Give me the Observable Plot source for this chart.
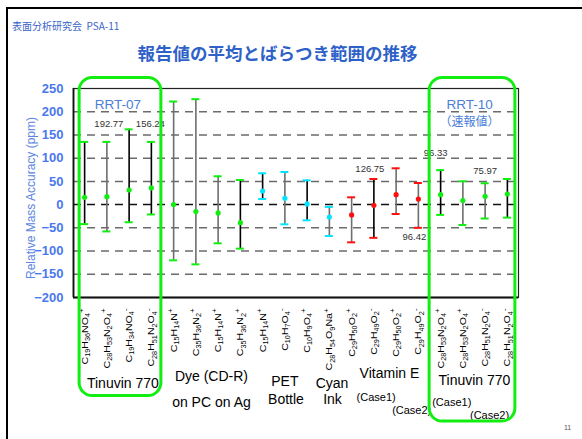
<!DOCTYPE html>
<html>
<head>
<meta charset="utf-8">
<script src="https://cdn.jsdelivr.net/npm/d3@7"></script>
<script src="https://cdn.jsdelivr.net/npm/@observablehq/plot@0.6"></script>
<style>
  body { margin: 0; background: #fff; }
  #slide { position: relative; width: 582px; height: 439px; overflow: hidden; background: #fff; }
  #edge { position: absolute; left: 6px; top: 7px; width: 800px; height: 800px;
          border-top: 2.5px solid #000; border-left: 2.5px solid #000; }
  #org { position: absolute; left: 12px; top: 21px; font: 10px/10px "Noto Sans CJK JP", sans-serif; color: #3a66c8; white-space: pre; }
  #title { position: absolute; left: 0; width: 555px; top: 44px; text-align: center;
           font: bold 17.5px/17.5px "Noto Sans CJK JP", sans-serif; color: #2f62c8; }
  #page { position: absolute; left: 564px; top: 424px; font: 7px/7px "Liberation Sans", sans-serif; color: #555; }
  #chart { position: absolute; left: 0; top: 0; }
</style>
</head>
<body>
<div id="slide">
  <div id="chart"></div>
  <div id="edge"></div>
  <div id="org">表面分析研究会  PSA-11</div>
  <div id="title">報告値の平均とばらつき範囲の推移</div>
  <div id="page">11</div>
</div>
<script>
// Ion formulas along the x axis (digits = subscripts, trailing sign = charge)
const formulas = [
  "C19H36NO4+", "C28H53N2O4+", "C19H34NO4-", "C28H51N2O4-",
  "C15H14N+", "C35H36N2+", "C15H14N+", "C35H36N2+",
  "C15H14N+", "C10H7O4-", "C10H9O4+", "C28H54O9Na+",
  "C29H50O2+", "C29H49O2-", "C29H50O2+", "C29H49O2-",
  "C28H53N2O4+", "C28H53N2O4+", "C28H51N2O4-", "C28H51N2O4-"
];
// Mean relative mass accuracy (ppm)
const means = [15.7, 17, 31.5, 36, 0, -15, -18, -38.8, 29.3, 13.6,
               1.4, -26.7, -22.3, -1.5, 21.5, 12, 21.5, 8.6, 17.9, 22.8];
// Upper and lower ends of the reported spread (ppm)
const highs = [135, 135, 162, 135, 222, 227, 61, 53, 67.4, 70.2,
               52.3, -5, 15.7, 55.2, 78.2, 46.5, 74.2, 50.2, 46, 55.2];
const lows = [-42, -57.77, -38, -21.24, -120, -128.6, -83.3, -94.8, 12, -42.4,
              -33.8, -67.5, -81.2, -71.55, -20.2, -49.92, -22.13, -43.9, -29.97, -28];
// Sample family of each ion (sets the marker colour)
const family = ["T", "T", "T", "T", "D", "D", "D", "D", "P", "P",
                "P", "P", "V", "V", "V", "V", "T", "T", "T", "T"];
// Bar line tone of each ion
const tone = ["k", "g", "k", "k", "g", "g", "g", "k", "k", "g",
              "k", "g", "g", "k", "g", "g", "k", "g", "g", "k"];
// Spreads printed as numbers next to their bars (column index)
const spreadLabelled = [1, 3, 13, 15, 16, 18];
// Grid / tick values
const yTicks = [-200, -150, -100, -50, 0, 50, 100, 150, 200, 250];
const gridLines = [-150, -100, -50, 50, 100, 150, 200];

const familyColor = {T: "#10ee10", D: "#10ee10", P: "#00e5ff", V: "#ff1010"};
const toneColor = {k: "#000", g: "#6e6e6e"};
const blue = "#4a78ee";

const rows = formulas.map((f, i) => ({
  i, f, mean: means[i], hi: highs[i], lo: lows[i],
  color: familyColor[family[i]], line: toneColor[tone[i]]
}));

// placement of the spread numbers: which end, and pixel offset
const spreadPlace = {
  1: {end: "hi", dx: 2, dy: -18}, 3: {end: "hi", dx: -1, dy: -18},
  13: {end: "hi", dx: -4, dy: -10}, 15: {end: "lo", dx: -4, dy: 9},
  16: {end: "hi", dx: -5, dy: -17}, 18: {end: "hi", dx: 0, dy: -12}
};

// captions under the formulas: text, x (column units), baseline below frame, size
const captions = [
  ["Tinuvin 770", 1.72, 90, 14], ["Dye (CD-R)", 5.7, 83, 14], ["on PC on Ag", 5.7, 109, 14],
  ["PET", 9.0, 88, 14], ["Bottle", 9.05, 106, 14], ["Cyan", 11.12, 90, 14], ["Ink", 11.14, 106, 14],
  ["Vitamin E", 13.7, 80, 14], ["(Case1)", 13.1, 103, 11], ["(Case2)", 14.7, 116, 11],
  ["Tinuvin 770", 17.52, 87, 14], ["(Case1)", 16.5, 108, 11], ["(Case2)", 18.2, 121, 11]
];

const capHalf = 0.18;
const marks = [
  Plot.ruleY(gridLines, {stroke: "#6b6b6b", strokeWidth: 1.5, strokeDasharray: "8,6"}),
  Plot.ruleY([0], {stroke: "#111", strokeWidth: 1.5, strokeDasharray: "8,6"}),
  Plot.frame({stroke: "#222", strokeWidth: 1.2}),
  Plot.ruleX([-0.5], {stroke: "#111", strokeWidth: 1.8}),
  Plot.ruleY([-200], {stroke: "#111", strokeWidth: 2}),
  Plot.axisY(yTicks, {tickSize: 0, tickPadding: 10, fontSize: 13, fontWeight: "bold", color: blue, label: null}),
  Plot.text(["Relative Mass Accuracy (ppm)"], {frameAnchor: "left", textAnchor: "middle", lineAnchor: "middle",
    rotate: -90, dx: -42, dy: 5, fill: "#5b84e3", fontSize: 12}),
  Plot.ruleX(rows, {x: "i", y1: "lo", y2: "hi", stroke: "line", strokeWidth: 1.6}),
  Plot.ruleY(rows, {y: "hi", x1: d => d.i - capHalf, x2: d => d.i + capHalf, stroke: "color", strokeWidth: 2}),
  Plot.ruleY(rows, {y: "lo", x1: d => d.i - capHalf, x2: d => d.i + capHalf, stroke: "color", strokeWidth: 2}),
  Plot.dot(rows, {x: "i", y: "mean", r: 2.6, fill: "color"}),
  Plot.text(rows, {x: "i", text: "f", frameAnchor: "bottom", dy: 11, rotate: -90, textAnchor: "end",
    lineAnchor: "middle", fontSize: 9.5, fill: "#000"}),
  Plot.text(["RRT-07"], {x: 1.5, frameAnchor: "top", lineAnchor: "middle", dy: 16, fontSize: 13.5, fill: "#4a7ed8"}),
  Plot.text(["RRT-10"], {x: 17.3, frameAnchor: "top", lineAnchor: "middle", dy: 16, fontSize: 13.5, fill: "#4a7ed8"}),
  Plot.text(["（速報値）"], {x: 17.3, frameAnchor: "top", lineAnchor: "middle", dy: 34, fontSize: 12,
    fontFamily: "Noto Sans CJK JP", fill: "#4a7ed8"})
];

for (const i of spreadLabelled) {
  const p = spreadPlace[i];
  const r = rows[i];
  marks.push(Plot.text([r], {x: "i", y: p.end, dx: p.dx, dy: p.dy,
    text: d => (d.hi - d.lo).toFixed(2), fontSize: 9.5, fill: "#333"}));
}
for (const [text, x, base, size] of captions) {
  marks.push(Plot.text([text], {x, frameAnchor: "bottom", dy: base, lineAnchor: "bottom",
    fontSize: size, fill: "#000"}));
}

const plot = Plot.plot({
  width: 582, height: 439,
  marginLeft: 73, marginRight: 64, marginTop: 88, marginBottom: 142,
  x: {domain: [-0.5, 19.5], axis: null},
  y: {domain: [-200, 250], axis: null},
  style: {fontFamily: "'Liberation Sans', Arial, sans-serif", background: "transparent", overflow: "visible"},
  marks
});
document.getElementById("chart").append(plot);

// rebuild formula labels with sub- and superscripts, drawn slightly elongated
const formulaSet = new Set(formulas);
const formulaTexts = d3.select(plot).selectAll("text").filter(function () {
  return formulaSet.has(this.textContent);
});
formulaTexts.each(function () {
  const s = this.textContent;
  const t = d3.select(this);
  t.text(null);
  let shift = 0;
  const put = (str, size, target) => {
    const span = t.append("tspan").text(str);
    if (size) span.attr("font-size", size);
    if (target !== shift) { span.attr("dy", target - shift); shift = target; }
  };
  const m = s.match(/^(.*?)([+-])?$/);
  for (const [, el, n] of m[1].matchAll(/([A-Z][a-z]?)(\d*)/g)) {
    put(el, null, 0);
    if (n) put(n, 6.5, 2.2);
  }
  if (m[2]) put(m[2], 7, -3.8);
});
// stretch along the reading direction: first label spans 56px
const firstLen = formulaTexts.node().getComputedTextLength();
const stretch = firstLen > 0 ? 56 / firstLen : 1;
formulaTexts.each(function () {
  const len = this.getComputedTextLength();
  if (len > 0) d3.select(this).attr("textLength", len * stretch).attr("lengthAdjust", "spacingAndGlyphs");
});

// green outlines around the two Tinuvin 770 series
const sx = plot.scale("x");
const boxes = [
  {first: 0, last: 3, padL: 5, padR: 10, top: 77.5, bottom: 395.5},
  {first: 16, last: 19, padL: 11, padR: 8, top: 77.5, bottom: 421}
];
const svg = d3.select(plot);
for (const b of boxes) {
  const x0 = sx.apply(b.first) - b.padL, x1 = sx.apply(b.last) + b.padR;
  svg.append("rect").attr("x", x0).attr("y", b.top).attr("width", x1 - x0).attr("height", b.bottom - b.top)
    .attr("rx", 13).attr("fill", "none").attr("stroke", "#12ee12").attr("stroke-width", 3);
}
</script>
</body>
</html>
